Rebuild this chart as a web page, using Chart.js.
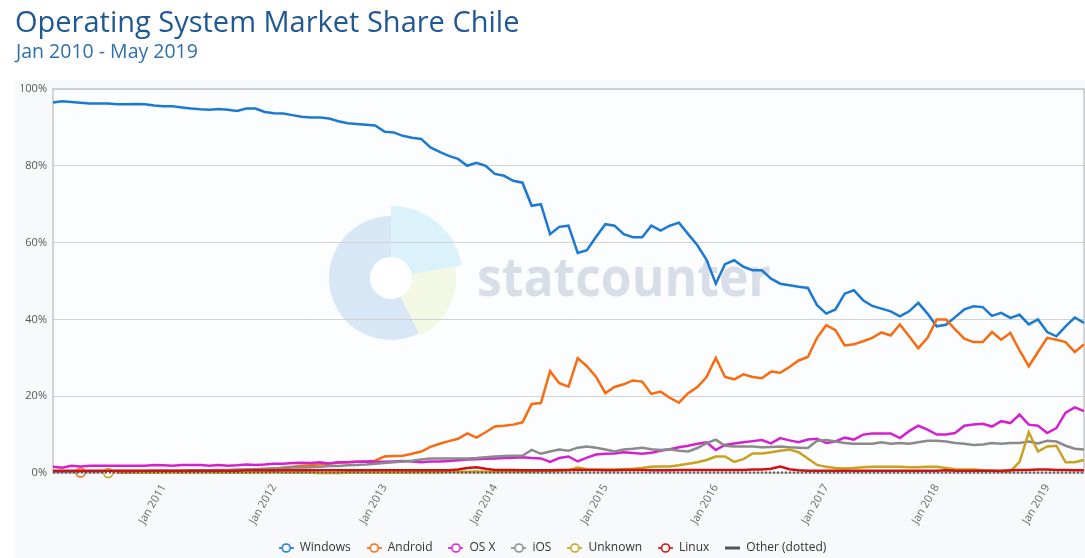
<!DOCTYPE html>
<html>
<head>
<meta charset="utf-8">
<script src="https://cdn.jsdelivr.net/npm/chart.js@4.4.1/dist/chart.umd.min.js"></script>
<style>
html,body{margin:0;padding:0;background:#fff;}
canvas{display:block;}
</style>
</head>
<body>
<canvas id="c" width="1085" height="558"></canvas>
<script>
const categories = [
 '2010-01','2010-02','2010-03','2010-04','2010-05','2010-06','2010-07','2010-08','2010-09','2010-10','2010-11','2010-12',
 '2011-01','2011-02','2011-03','2011-04','2011-05','2011-06','2011-07','2011-08','2011-09','2011-10','2011-11','2011-12',
 '2012-01','2012-02','2012-03','2012-04','2012-05','2012-06','2012-07','2012-08','2012-09','2012-10','2012-11','2012-12',
 '2013-01','2013-02','2013-03','2013-04','2013-05','2013-06','2013-07','2013-08','2013-09','2013-10','2013-11','2013-12',
 '2014-01','2014-02','2014-03','2014-04','2014-05','2014-06','2014-07','2014-08','2014-09','2014-10','2014-11','2014-12',
 '2015-01','2015-02','2015-03','2015-04','2015-05','2015-06','2015-07','2015-08','2015-09','2015-10','2015-11','2015-12',
 '2016-01','2016-02','2016-03','2016-04','2016-05','2016-06','2016-07','2016-08','2016-09','2016-10','2016-11','2016-12',
 '2017-01','2017-02','2017-03','2017-04','2017-05','2017-06','2017-07','2017-08','2017-09','2017-10','2017-11','2017-12',
 '2018-01','2018-02','2018-03','2018-04','2018-05','2018-06','2018-07','2018-08','2018-09','2018-10','2018-11','2018-12',
 '2019-01','2019-02','2019-03','2019-04','2019-05'
];
const monthNames = ['Jan','Feb','Mar','Apr','May','Jun','Jul','Aug','Sep','Oct','Nov','Dec'];
const tickLabels = ['Jan 2011','Jan 2012','Jan 2013','Jan 2014','Jan 2015','Jan 2016','Jan 2017','Jan 2018','Jan 2019'];
const yTicks = [0, 20, 40, 60, 80, 100];

const windows = [
 96.5,96.8,96.6,96.4,96.2,96.2,96.2,96.0,96.0,96.1,
 96.0,95.7,95.5,95.5,95.2,94.9,94.7,94.6,94.8,94.6,
 94.3,94.9,94.9,94.0,93.7,93.6,93.2,92.8,92.6,92.6,
 92.3,91.6,91.1,90.9,90.7,90.5,88.9,88.7,87.8,87.3,
 87.0,84.8,83.6,82.6,81.8,80.0,80.8,80.0,77.9,77.4,
 76.1,75.6,69.6,70.0,62.2,64.1,64.4,57.3,58.0,61.5,
 64.8,64.4,62.2,61.4,61.4,64.4,63.1,64.4,65.2,62.2,
 59.3,55.5,49.3,54.4,55.4,53.7,52.8,52.8,50.6,49.3,
 48.9,48.5,48.2,43.7,41.5,42.6,46.7,47.6,45.0,43.5,
 42.8,42.1,40.8,42.1,44.3,41.5,38.2,38.6,40.6,42.6,
 43.4,43.2,40.9,41.7,40.4,41.2,38.7,40.0,36.7,35.6,
 38.2,40.5,39.1
];
const android = [
 null,null,null,0.1,null,null,null,0.1,0.1,0.2,
 0.2,0.2,0.3,0.3,0.3,0.4,0.4,0.5,0.5,0.6,
 0.7,0.8,0.9,1.0,1.2,1.4,1.6,1.8,2.0,2.3,
 2.5,2.7,2.8,2.9,3.0,3.2,4.3,4.4,4.5,5.0,
 5.6,6.8,7.6,8.3,8.9,10.3,9.2,10.6,12.1,12.3,
 12.6,13.2,18.0,18.2,26.5,23.4,22.5,29.9,27.8,25.0,
 20.8,22.4,23.1,24.1,23.8,20.6,21.2,19.6,18.3,20.8,
 22.4,25.0,30.0,25.0,24.4,25.7,25.0,24.7,26.4,26.1,
 27.6,29.3,30.2,35.2,38.5,37.2,33.2,33.5,34.3,35.2,
 36.6,35.8,38.7,35.6,32.5,35.2,40.0,40.0,37.4,35.0,
 34.1,34.1,36.7,34.7,36.5,31.9,27.8,31.5,35.2,34.7,
 34.1,31.5,33.5
];
const osx = [
 1.6,1.4,1.9,1.7,1.9,1.9,1.9,1.9,1.9,1.9,
 1.9,2.1,2.0,1.9,2.1,2.1,2.1,1.9,2.1,1.9,
 2.0,2.2,2.1,2.2,2.4,2.4,2.6,2.7,2.6,2.8,
 2.5,2.8,2.8,2.9,3.0,2.9,2.9,3.0,3.1,3.0,
 2.8,3.0,3.0,3.1,3.3,3.5,3.6,3.7,3.8,3.9,
 4.0,4.1,3.9,3.8,2.9,3.9,4.3,3.0,4.0,4.8,
 5.0,5.1,5.4,5.2,5.0,5.3,5.8,6.2,6.7,7.1,
 7.6,8.0,6.0,7.3,7.7,8.0,8.3,8.6,7.7,9.1,
 8.5,8.0,8.7,8.9,7.8,8.2,9.2,8.7,10.0,10.3,
 10.3,10.3,9.1,10.9,12.3,11.3,10.0,10.0,10.4,12.3,
 12.6,12.8,12.1,13.5,13.0,15.2,12.6,12.3,10.4,11.7,
 15.7,17.1,16.1
];
const ios = [
 0.3,0.3,0.3,0.4,0.4,0.4,0.4,0.5,0.5,0.5,
 0.5,0.6,0.6,0.6,0.6,0.7,0.7,0.7,0.8,0.8,
 0.9,0.9,1.0,1.1,1.2,1.3,1.4,1.4,1.5,1.6,
 1.8,1.8,2.0,2.1,2.2,2.4,2.6,2.8,3.0,3.2,
 3.5,3.8,3.8,3.8,3.8,3.8,3.9,4.1,4.3,4.4,
 4.5,4.5,6.0,5.0,5.6,6.1,5.8,6.6,6.9,6.6,
 6.1,5.6,6.1,6.3,6.6,6.2,6.0,6.2,5.8,5.6,
 6.5,7.8,8.7,7.1,6.9,6.9,6.9,6.7,6.8,6.9,
 6.7,6.6,6.5,8.4,8.6,8.2,7.8,7.6,7.6,7.6,
 8.0,7.6,7.8,7.6,8.0,8.4,8.4,8.2,7.8,7.6,
 7.3,7.4,7.8,7.6,7.8,7.8,8.2,7.7,8.4,8.2,
 7.1,6.3,6.1
];
const unknown = [
 null,null,null,null,null,null,0.0,null,null,0.1,
 0.1,0.2,0.2,0.1,0.1,0.2,0.2,0.2,0.1,0.1,
 0.1,0.1,0.2,0.2,0.2,0.1,0.1,0.1,0.1,0.0,
 0.0,0.0,0.1,0.1,0.1,0.1,0.1,0.1,0.1,0.2,
 0.2,0.2,0.2,0.3,0.3,0.3,0.4,0.3,0.3,0.4,
 0.4,0.4,0.4,0.5,0.5,0.6,0.7,1.4,1.0,0.9,
 0.9,0.9,1.0,1.1,1.3,1.6,1.7,1.7,2.0,2.4,
 2.8,3.4,4.3,4.3,2.9,3.6,5.1,5.1,5.4,5.8,
 6.1,5.4,3.8,2.1,1.6,1.3,1.2,1.3,1.5,1.6,
 1.6,1.6,1.6,1.5,1.5,1.6,1.6,1.3,1.0,0.9,
 0.9,0.7,0.6,0.4,0.4,2.9,10.6,5.6,6.9,7.1,
 2.8,2.8,3.4
];
const linux = [
 0.6,0.6,0.6,0.6,0.6,0.6,0.6,0.6,0.6,0.6,
 0.6,0.6,0.6,0.6,0.6,0.6,0.6,0.6,0.6,0.6,
 0.6,0.7,0.7,0.7,0.7,0.7,0.7,0.7,0.7,0.7,
 0.7,0.7,0.7,0.7,0.7,0.7,0.7,0.7,0.7,0.7,
 0.7,0.7,0.7,0.7,0.9,1.3,1.5,1.1,0.8,0.8,
 0.8,0.7,0.7,0.7,0.7,0.8,0.8,0.8,0.8,0.8,
 0.7,0.7,0.8,0.8,0.8,0.7,0.7,0.7,0.8,0.8,
 0.8,0.8,0.8,0.8,0.8,0.8,0.9,0.9,1.1,1.7,
 1.0,0.7,0.6,0.6,0.6,0.6,0.6,0.6,0.6,0.6,
 0.6,0.6,0.6,0.6,0.6,0.6,0.6,0.7,0.6,0.6,
 0.6,0.6,0.6,0.6,0.7,0.8,0.8,0.9,0.9,0.8,
 0.8,0.7,0.7
];
const other = [
 0.1,0.1,0.1,0.1,0.1,0.1,0.1,0.1,0.1,0.1,
 0.2,0.1,0.1,0.2,0.1,0.1,0.1,0.2,0.1,0.1,
 0.1,0.1,0.1,0.1,0.2,0.1,0.1,0.1,0.1,0.1,
 0.1,0.1,0.1,0.1,0.1,0.1,0.1,0.1,0.1,0.1,
 0.1,0.1,0.1,0.1,0.1,0.1,0.1,0.1,0.1,0.1,
 0.1,0.1,0.1,0.1,0.1,0.1,0.1,0.1,0.1,0.1,
 0.1,0.1,0.1,0.1,0.1,0.1,0.1,0.1,0.1,0.1,
 0.1,0.1,0.1,0.1,0.1,0.1,0.1,0.1,0.1,0.1,
 0.1,0.1,0.1,0.1,0.1,0.1,0.1,0.1,0.1,0.1,
 0.1,0.1,0.1,0.1,0.1,0.1,0.1,0.1,0.1,0.1,
 0.1,0.1,0.1,0.1,0.1,0.1,0.1,0.1,0.1,0.1,
 0.1,0.1,0.1
];

const seriesNames = ['Windows','Android','OS X','iOS','Unknown','Linux','Other (dotted)'];
const seriesData = [windows, android, osx, ios, unknown, linux, other];
const seriesColors = ['#1b79d2','#f86b0f','#d321cf','#8a8a8a','#c9a11c','#d40f0f','#555555'];

function makeIcon(color, plain) {
  const c = document.createElement('canvas');
  c.width = 15; c.height = 12;
  const g = c.getContext('2d');
  g.strokeStyle = color;
  if (plain) {
    g.lineWidth = 3;
    g.beginPath(); g.moveTo(0, 6); g.lineTo(15, 6); g.stroke();
  } else {
    g.lineWidth = 1.6;
    g.beginPath(); g.moveTo(0, 6); g.lineTo(15, 6); g.stroke();
    g.fillStyle = '#ffffff';
    g.beginPath(); g.arc(7.5, 6, 4, 0, Math.PI * 2); g.fill(); g.stroke();
  }
  return c;
}
const icons = seriesColors.map((c, i) => makeIcon(c, i === 6));

function isolatedRadius(ctx) {
  const d = ctx.dataset.data, i = ctx.dataIndex;
  return (d[i] != null && d[i - 1] == null && d[i + 1] == null) ? 4.5 : 0;
}

const datasets = seriesNames.map((name, i) => ({
  label: name,
  data: seriesData[i],
  borderColor: seriesColors[i],
  backgroundColor: seriesColors[i],
  borderWidth: i === 6 ? 2 : 2.5,
  borderDash: i === 6 ? [2, 2] : [],
  pointRadius: isolatedRadius,
  pointHoverRadius: 0,
  pointBackgroundColor: 'rgba(255,255,255,0.85)',
  pointBorderColor: seriesColors[i],
  pointBorderWidth: 1.5,
  tension: 0,
  spanGaps: false,
  fill: false,
  clip: false,
  order: -i
}));

const decorPlugin = {
  id: 'decor',
  beforeDraw(chart) {
    const ctx = chart.ctx, ca = chart.chartArea;
    ctx.save();
    ctx.fillStyle = '#ffffff';
    ctx.fillRect(0, 0, chart.width, chart.height);
    ctx.fillStyle = '#f8f9fb';
    ctx.fillRect(15, 80, chart.width - 15, chart.height - 80);
    ctx.fillStyle = '#fcfdfe';
    ctx.fillRect(ca.left, ca.top, ca.right - ca.left, ca.bottom - ca.top);
    // watermark logo
    const cx = 391, cy = 278, d2r = Math.PI / 180;
    ctx.fillStyle = '#d8e7f6';
    ctx.beginPath(); ctx.moveTo(cx, cy); ctx.arc(cx, cy, 62, 63 * d2r, 270 * d2r); ctx.closePath(); ctx.fill();
    ctx.fillStyle = '#dcf2fb';
    ctx.beginPath(); ctx.moveTo(cx, cy); ctx.arc(cx, cy, 72, 270 * d2r, 350 * d2r); ctx.closePath(); ctx.fill();
    ctx.fillStyle = '#f2f8e3';
    ctx.beginPath(); ctx.moveTo(cx, cy); ctx.arc(cx, cy, 65, -10 * d2r, 63 * d2r); ctx.closePath(); ctx.fill();
    ctx.fillStyle = '#ffffff';
    ctx.beginPath(); ctx.arc(cx, cy, 21, 0, Math.PI * 2); ctx.fill();
    ctx.fillStyle = '#d8dee8';
    ctx.font = 'bold 54px "Open Sans"';
    ctx.textBaseline = 'alphabetic';
    ctx.textAlign = 'left';
    ctx.fillText('statcounter', 477, 296, 294);
    // titles
    ctx.fillStyle = '#1f5895';
    ctx.font = '29px "Open Sans"';
    ctx.fillText('Operating System Market Share Chile', 15, 32);
    ctx.fillStyle = '#2f6fb0';
    ctx.font = '19.5px "Open Sans"';
    ctx.fillText('Jan 2010 - May 2019', 16, 58);
    ctx.restore();
  },
  beforeDatasetsDraw(chart) {
    const ctx = chart.ctx, ca = chart.chartArea;
    ctx.save();
    ctx.strokeStyle = '#c6c6c6';
    ctx.lineWidth = 1.5;
    ctx.strokeRect(ca.left, ca.top, ca.right - ca.left, ca.bottom - ca.top);
    ctx.restore();
  }
};

new Chart(document.getElementById('c'), {
  type: 'line',
  data: { labels: categories, datasets: datasets },
  options: {
    responsive: false,
    animation: false,
    devicePixelRatio: 1,
    layout: { padding: { top: 89, left: 21, right: 1, bottom: -6 } },
    interaction: { mode: null },
    plugins: {
      title: { display: false },
      tooltip: { enabled: false },
      legend: {
        display: true,
        position: 'bottom',
        fullSize: true,
        labels: {
          usePointStyle: true,
          pointStyleWidth: 15,
          padding: 16,
          color: '#333333',
          font: { family: '"Open Sans"', size: 12 },
          sort: (a, b) => a.datasetIndex - b.datasetIndex,
          generateLabels(chart) {
            const items = Chart.defaults.plugins.legend.labels.generateLabels(chart);
            items.forEach(it => { it.pointStyle = icons[it.datasetIndex]; });
            return items;
          }
        }
      }
    },
    scales: {
      x: {
        type: 'category',
        offset: false,
        grid: { display: false },
        border: { display: false },
        afterFit(scale) { scale.height = 53; },
        ticks: {
          autoSkip: false,
          minRotation: 60,
          maxRotation: 60,
          padding: 1,
          color: '#666666',
          font: { family: '"Open Sans"', size: 11 },
          callback(value, index) {
            const parts = categories[index].split('-');
            const lbl = monthNames[parseInt(parts[1], 10) - 1] + ' ' + parts[0];
            return tickLabels.includes(lbl) ? lbl : null;
          }
        }
      },
      y: {
        min: 0,
        max: 100,
        afterFit(scale) { scale.width = 32; },
        afterBuildTicks(scale) { scale.ticks = yTicks.map(v => ({ value: v })); },
        grid: { color: '#d3d3d3', lineWidth: 1, drawTicks: false },
        border: { display: false },
        ticks: {
          padding: 6,
          color: '#555555',
          font: { family: '"Open Sans"', size: 11 },
          callback: v => v + '%'
        }
      }
    }
  },
  plugins: [decorPlugin]
});
</script>
</body>
</html>
